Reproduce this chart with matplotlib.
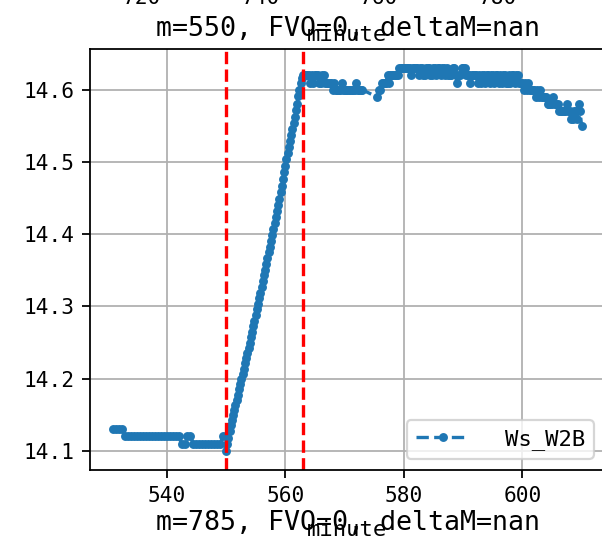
import numpy as np
import matplotlib
matplotlib.use('Agg')
import matplotlib.pyplot as plt

plt.rcParams['font.family'] = 'DejaVu Sans Mono'

# Ws_W2B, one reading every half minute before the jump
start_min = 531.0
start_vals = [14.13, 14.13, 14.13, 14.13,
              14.12, 14.12, 14.12, 14.12, 14.12, 14.12, 14.12, 14.12, 14.12, 14.12,
              14.12, 14.12, 14.12, 14.12, 14.12, 14.12, 14.12, 14.12, 14.12,
              14.11, 14.11, 14.12, 14.12,
              14.11, 14.11, 14.11, 14.11, 14.11, 14.11, 14.11, 14.11, 14.11, 14.11,
              14.12, 14.10]

# the ramp, sampled more often
ramp_min = 550.2
ramp_vals = [14.109, 14.118, 14.127,
             14.136, 14.143, 14.150, 14.157, 14.164, 14.171, 14.178,
             14.186, 14.193, 14.200, 14.207, 14.214, 14.221, 14.228, 14.235, 14.242,
             14.250, 14.257, 14.265, 14.273, 14.280, 14.288, 14.296, 14.303,
             14.311, 14.319, 14.327, 14.335, 14.343, 14.351, 14.359, 14.367, 14.375,
             14.383, 14.391, 14.399, 14.407, 14.415, 14.424, 14.432, 14.440,
             14.449, 14.458, 14.467, 14.476, 14.486, 14.495, 14.504,
             14.512, 14.521, 14.529, 14.537, 14.546, 14.554, 14.563,
             14.572, 14.581, 14.591, 14.600, 14.609, 14.616, 14.620]

# plateau, quarter-minute readings, with a hole between 573 and 575.5
top1_min = 563.25
top1_vals = [14.62, 14.62, 14.62, 14.62,
             14.61, 14.62, 14.61, 14.62,
             14.62, 14.62, 14.61, 14.61,
             14.62, 14.62, 14.61, 14.61,
             14.61, 14.61, 14.61, 14.60,
             14.61, 14.60, 14.60, 14.60,
             14.60, 14.61, 14.60, 14.60,
             14.60, 14.60, 14.60, 14.60,
             14.60, 14.60, 14.60, 14.61,
             14.60, 14.60, 14.60, 14.60]

top2_min = 575.5
top2_vals = [14.59, 14.60,
             14.60, 14.61, 14.61, 14.61,
             14.61, 14.62, 14.61, 14.62,
             14.62, 14.62, 14.62, 14.62,
             14.62, 14.63, 14.63, 14.63,
             14.63, 14.63, 14.63, 14.63,
             14.63, 14.62, 14.63, 14.63,
             14.63, 14.63, 14.62, 14.63,
             14.63, 14.62, 14.62, 14.63,
             14.63, 14.63, 14.62, 14.62,
             14.63, 14.63, 14.62, 14.63,
             14.63, 14.62, 14.63, 14.63,
             14.62, 14.63, 14.62, 14.62,
             14.62, 14.63, 14.63, 14.62,
             14.61, 14.62, 14.62, 14.63,
             14.63, 14.63, 14.62, 14.62,
             14.62, 14.61, 14.62, 14.62,
             14.62, 14.62, 14.61, 14.62,
             14.61, 14.62, 14.62, 14.61,
             14.62, 14.62, 14.61, 14.62,
             14.62, 14.61, 14.62, 14.62,
             14.61, 14.62, 14.61, 14.62,
             14.62, 14.61, 14.61, 14.62,
             14.61, 14.62, 14.62, 14.61,
             14.62, 14.62, 14.61, 14.61,
             14.61, 14.60, 14.61, 14.60,
             14.61, 14.60, 14.60, 14.60,
             14.60, 14.59, 14.60, 14.59,
             14.60, 14.59, 14.59, 14.59,
             14.59, 14.58, 14.58, 14.58,
             14.58, 14.59, 14.58, 14.58,
             14.58, 14.57, 14.57, 14.57,
             14.57, 14.57, 14.58, 14.57,
             14.57, 14.56, 14.56, 14.57,
             14.57, 14.56, 14.58, 14.57,
             14.55]

fvo_lines = [550, 563]
title = 'm=550, FVO=0, deltaM=nan'
next_title = 'm=785, FVO=0, deltaM=nan'
prev_ticks = [720, 740, 760, 780]

minutes = np.concatenate([
    start_min + 0.5 * np.arange(len(start_vals)),
    ramp_min + 0.2 * np.arange(len(ramp_vals)),
    top1_min + 0.25 * np.arange(len(top1_vals)),
    top2_min + 0.25 * np.arange(len(top2_vals)),
])
values = np.concatenate([start_vals, ramp_vals, top1_vals, top2_vals])

fig = plt.figure(figsize=(602 / 160, 552 / 160), dpi=160)
ax = fig.add_axes([90 / 602, 82 / 552, 515 / 602, 421 / 552])

ax.plot(minutes, values, '.--', label='Ws_W2B')
for m in fvo_lines:
    ax.axvline(m, color='r', linestyle='--')

ax.grid(True)
ax.tick_params(labelsize=9.5)
ax.set_title(title, fontsize=12)
ax.set_xlabel('minute', fontsize=10, labelpad=6.4)
ax.legend(loc='lower right', handlelength=2.4, handletextpad=1.6)

# pieces of the neighbouring subplots that show in the crop
for i, t in enumerate(prev_ticks):
    fig.text((142 + 118.5 * i) / 602, 1 - 4 / 552, str(t), ha='center',
             va='baseline', fontsize=9.5)
fig.text(347.5 / 602, 1 - 41 / 552, 'minute', ha='center', va='baseline', fontsize=10)
fig.text(347.5 / 602, 1 - 530 / 552, next_title, ha='center', va='baseline', fontsize=12)

fig.savefig('out.png', dpi=160)
